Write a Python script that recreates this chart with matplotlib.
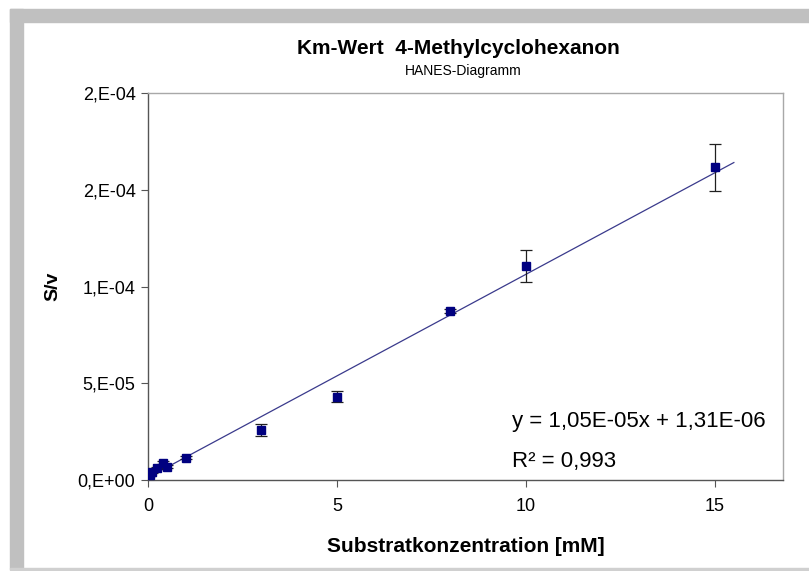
import numpy as np
import matplotlib
matplotlib.use("Agg")
import matplotlib.pyplot as plt
from matplotlib.patches import Rectangle
from matplotlib.ticker import FuncFormatter, MultipleLocator

plt.rcParams['font.family'] = ['Liberation Sans', 'DejaVu Sans']

# Hanes plot data: substrate concentration vs S/v
substrate_mM = [0.05, 0.1, 0.25, 0.4, 0.5, 1, 3, 5, 8, 10, 15]
s_over_v = [2.6e-6, 4.3e-6, 6.0e-6, 8.9e-6, 6.9e-6, 1.15e-5, 2.59e-5, 4.31e-5, 8.72e-5, 1.107e-4, 1.615e-4]
s_over_v_err = [4e-7, 5e-7, 5e-7, 8e-7, 6e-7, 8e-7, 3.1e-6, 2.8e-6, 1.0e-6, 8.4e-6, 1.24e-5]

# Linear regression result
slope = 1.05e-5
intercept = 1.31e-6
r_squared = 0.993
trend_forward = 0.5

W, H = 809, 571
fig = plt.figure(figsize=(W / 100, H / 100), dpi=100)
fig.patch.set_facecolor('white')

# grey frame bands (top, left) and thin bottom rule
band = '#c0c0c0'
fig.patches.append(Rectangle((10 / W, 1 - 22 / H), 1 - 10 / W, 13 / H,
                             transform=fig.transFigure, color=band, zorder=0))
fig.patches.append(Rectangle((10 / W, 1 - 569 / H), 13 / W, (569 - 9) / H,
                             transform=fig.transFigure, color=band, zorder=0))
fig.patches.append(Rectangle((10 / W, 1 - 570 / H), 1 - 10 / W, 2 / H,
                             transform=fig.transFigure, color='#d0d0d0', zorder=0))

ax = fig.add_axes([148 / W, 1 - 480 / H, 635 / W, 387 / H])
ax.set_facecolor('white')

x = np.array(substrate_mM)
y = np.array(s_over_v)

# trend line
xt = np.array([x.min(), x.max() + trend_forward])
ax.plot(xt, slope * xt + intercept, color='#3a3a8c', lw=0.9, zorder=2)

ax.errorbar(x, y, yerr=s_over_v_err, fmt='s', color='#000080', ms=6,
            ecolor='#202020', elinewidth=0.9, capsize=4, capthick=0.9, zorder=3)

ax.set_xlim(0, 16.8)
ax.set_ylim(0, 2e-4)
ax.xaxis.set_major_locator(MultipleLocator(5))
ax.yaxis.set_major_locator(MultipleLocator(5e-5))


def excel_sci(v, pos):
    if v == 0:
        return '0,E+00'
    e = int(np.floor(np.log10(abs(v))))
    m = round(v / 10 ** e)
    if abs(m) >= 10:
        m /= 10
        e += 1
    return f"{m:.0f},E{e:+03d}"


ax.yaxis.set_major_formatter(FuncFormatter(excel_sci))

for side in ['left', 'bottom']:
    ax.spines[side].set_color('#555555')
    ax.spines[side].set_linewidth(1.0)
for side in ['top', 'right']:
    ax.spines[side].set_color('#a8a8a8')
    ax.spines[side].set_linewidth(1.0)

ax.tick_params(axis='both', direction='out', length=5, width=0.8, color='#555555',
               labelsize=13, labelcolor='black')
ax.tick_params(axis='y', pad=4)
ax.tick_params(axis='x', pad=8)

ax.set_xlabel('Substratkonzentration [mM]', fontsize=15, fontweight='bold', labelpad=16)
ax.set_ylabel('S/v', fontsize=14, fontweight='bold', labelpad=12)

fig.text(458 / W, 1 - 48 / H, 'Km-Wert  4-Methylcyclohexanon', ha='center', va='center',
         fontsize=15, fontweight='bold')
fig.text(463 / W, 1 - 71 / H, 'HANES-Diagramm', ha='center', va='center', fontsize=10)

fig.text(512 / W, 1 - 421 / H, 'y = 1,05E-05x + 1,31E-06', ha='left', va='center', fontsize=16)
fig.text(512 / W, 1 - 461 / H, 'R² = 0,993', ha='left', va='center', fontsize=16)

fig.savefig('out.png', dpi=100, facecolor='white')
